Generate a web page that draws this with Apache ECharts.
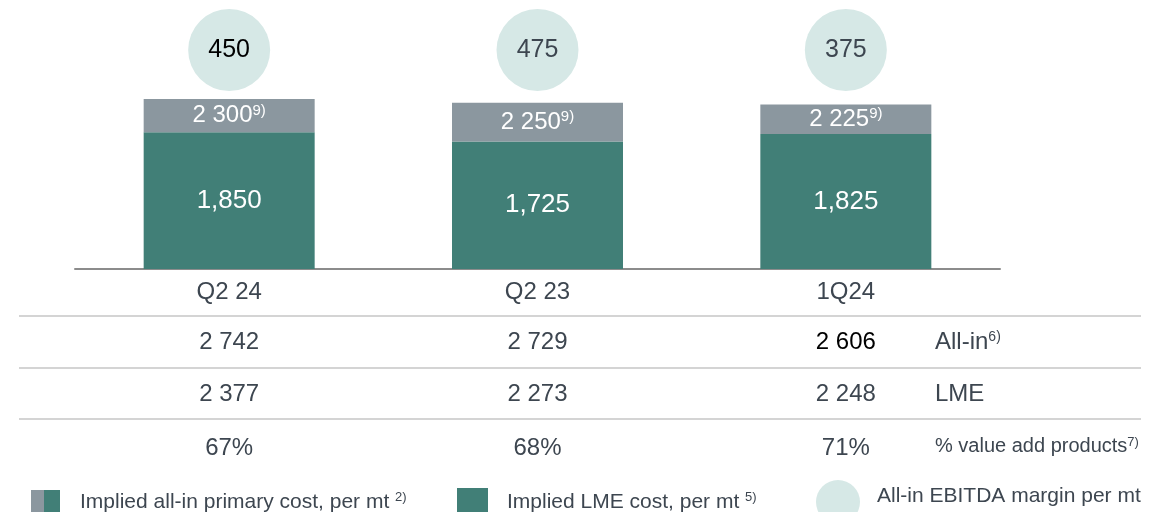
<!DOCTYPE html>
<html>
<head>
<meta charset="utf-8">
<script src="https://cdn.jsdelivr.net/npm/echarts@6/dist/echarts.min.js"></script>
<style>
  html, body { margin: 0; padding: 0; background: #fff; }
  #main { width: 1160px; height: 512px; }
</style>
</head>
<body>
<div id="main"></div>
<script>
// data
var quarters = ['Q2 24', 'Q2 23', '1Q24'];
var primaryCost = [2300, 2250, 2225];   // implied all-in primary cost, per mt
var lmeCost = [1850, 1725, 1825];       // implied LME cost, per mt
var ebitdaMargin = [450, 475, 375];     // all-in EBITDA margin per mt
var rowKeys = ['allin', 'lme', 'vap'];
var allInPrice = [2742, 2729, 2606];
var lmePrice = [2377, 2273, 2248];
var valueAddPct = [67, 68, 71];

var GREEN = '#417f77', GREY = '#8b979f', MINT = '#d6e8e6', TXT = '#3d4650';
var FONT = '"Liberation Sans", Arial, sans-serif';

function spaced(n) { return String(n).replace(/\B(?=(\d{3})+(?!\d))/g, ' '); }
function comma(n) { return String(n).replace(/\B(?=(\d{3})+(?!\d))/g, ','); }

var myChart = echarts.init(document.getElementById('main'));

// grey part sits on top of the green LME part
var greyPart = primaryCost.map(function (v, i) { return v - lmeCost[i]; });

var circleData = quarters.map(function (q, i) {
    return { value: [q, 'm', ebitdaMargin[i]], label: { color: i === 0 ? '#000' : TXT } };
});

var tableData = [];
quarters.forEach(function (q, i) {
    tableData.push({ value: [q, 'allin'], label: { formatter: spaced(allInPrice[i]), color: i === 2 ? '#000' : TXT } });
    tableData.push({ value: [q, 'lme'], label: { formatter: spaced(lmePrice[i]) } });
    tableData.push({ value: [q, 'vap'], label: { formatter: valueAddPct[i] + '%', offset: [0, 2] } });
});

var rowText = {
    allin: 'All-in{s|6)}',
    lme: 'LME',
    vap: '{m|% value add products}{s2|7)}'
};

var option = {
    animation: false,
    textStyle: { fontFamily: FONT },
    grid: [
        { left: 75, right: 160, top: 99, height: 170 },
        { left: 75, right: 160, top: 9, height: 82 },
        { left: 75, right: 160, top: 316, height: 156 }
    ],
    xAxis: [
        {
            type: 'category', gridIndex: 0, data: quarters,
            axisTick: { show: false },
            axisLine: { lineStyle: { color: '#8c8c8c', width: 2 } },
            axisLabel: { fontSize: 24, color: TXT, margin: 11, fontFamily: FONT }
        },
        { type: 'category', gridIndex: 1, data: quarters, show: false },
        { type: 'category', gridIndex: 2, data: quarters, show: false }
    ],
    yAxis: [
        { type: 'value', gridIndex: 0, min: 0, max: 2300, show: false },
        { type: 'category', gridIndex: 1, data: ['m'], show: false },
        {
            type: 'category', gridIndex: 2, data: rowKeys, inverse: true,
            position: 'right', offset: -65,
            axisLine: { show: false }, axisTick: { show: false }, splitLine: { show: false },
            axisLabel: {
                margin: 0, align: 'left', fontSize: 24, color: TXT, fontFamily: FONT,
                formatter: function (v) { return rowText[v]; },
                rich: {
                    s: { fontSize: 14, color: TXT, verticalAlign: 'top', padding: [0, 0, 10, 0] },
                    m: { fontSize: 20, color: TXT },
                    s2: { fontSize: 13, color: TXT, verticalAlign: 'top', padding: [0, 0, 8, 0] }
                }
            }
        }
    ],
    series: [
        {
            name: 'Implied LME cost, per mt',
            type: 'bar', stack: 'cost', xAxisIndex: 0, yAxisIndex: 0,
            barWidth: 171,
            data: lmeCost,
            itemStyle: { color: GREEN },
            label: {
                show: true, position: 'inside', color: '#fff', fontSize: 26,
                formatter: function (p) { return comma(p.value); }
            }
        },
        {
            name: 'Implied all-in primary cost, per mt',
            type: 'bar', stack: 'cost', xAxisIndex: 0, yAxisIndex: 0,
            barWidth: 171,
            data: greyPart,
            itemStyle: { color: GREY },
            label: {
                show: true, position: 'inside', color: '#fff', fontSize: 23,
                formatter: function (p) { return '{n|' + spaced(primaryCost[p.dataIndex]) + '}{s|9)}'; },
                rich: {
                    n: { fontSize: 24, color: '#fff' },
                    s: { fontSize: 15, color: '#fff', verticalAlign: 'top', padding: [0, 0, 10, 0] }
                }
            }
        },
        {
            name: 'All-in EBITDA margin per mt',
            type: 'scatter', xAxisIndex: 1, yAxisIndex: 1,
            symbolSize: 82,
            data: circleData,
            itemStyle: { color: MINT, opacity: 1 },
            label: {
                show: true, position: 'inside', fontSize: 25,
                formatter: function (p) { return p.value[2]; }
            }
        },
        {
            type: 'scatter', xAxisIndex: 2, yAxisIndex: 2,
            symbolSize: 0,
            data: tableData,
            itemStyle: { opacity: 1 },
            label: { show: true, position: 'inside', fontSize: 24, color: TXT, opacity: 1 }
        }
    ],
    graphic: [
        // table rules
        { type: 'line', shape: { x1: 19, y1: 316, x2: 1141, y2: 316 }, style: { stroke: '#d4d4d4', lineWidth: 2 } },
        { type: 'line', shape: { x1: 19, y1: 368, x2: 1141, y2: 368 }, style: { stroke: '#d4d4d4', lineWidth: 2 } },
        { type: 'line', shape: { x1: 19, y1: 419, x2: 1141, y2: 419 }, style: { stroke: '#d4d4d4', lineWidth: 2 } },
        // legend
        { type: 'rect', shape: { x: 31, y: 490, width: 13, height: 24 }, style: { fill: GREY } },
        { type: 'rect', shape: { x: 44, y: 490, width: 16, height: 24 }, style: { fill: GREEN } },
        {
            type: 'text', x: 80, y: 502,
            style: {
                text: '{t|Implied all-in primary cost, per mt }{s|2)}',
                verticalAlign: 'middle', fontFamily: FONT,
                rich: {
                    t: { fontSize: 21, fill: TXT, fontFamily: FONT },
                    s: { fontSize: 13, fill: TXT, fontFamily: FONT, verticalAlign: 'top', padding: [0, 0, 9, 0] }
                }
            }
        },
        { type: 'rect', shape: { x: 457, y: 488, width: 31, height: 26 }, style: { fill: GREEN } },
        {
            type: 'text', x: 507, y: 502,
            style: {
                text: '{t|Implied LME cost, per mt }{s|5)}',
                verticalAlign: 'middle', fontFamily: FONT,
                rich: {
                    t: { fontSize: 21, fill: TXT, fontFamily: FONT },
                    s: { fontSize: 13, fill: TXT, fontFamily: FONT, verticalAlign: 'top', padding: [0, 0, 9, 0] }
                }
            }
        },
        { type: 'circle', shape: { cx: 838, cy: 502, r: 22 }, style: { fill: MINT } },
        {
            type: 'text', x: 877, y: 496,
            style: { text: 'All-in EBITDA margin per mt', fontSize: 21, fill: TXT, fontFamily: FONT, verticalAlign: 'middle' }
        }
    ]
};

myChart.setOption(option);
</script>
</body>
</html>
